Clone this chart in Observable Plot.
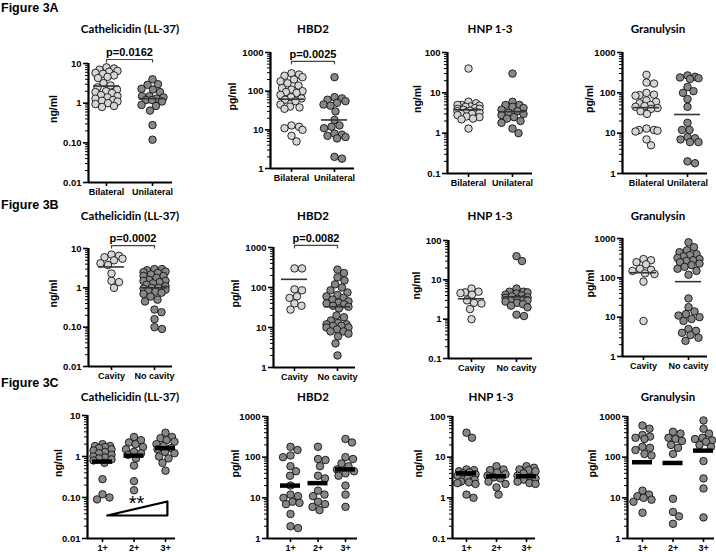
<!DOCTYPE html>
<html><head><meta charset="utf-8">
<script src="https://cdn.jsdelivr.net/npm/d3@7"></script>
<script src="https://cdn.jsdelivr.net/npm/@observablehq/plot@0.6"></script>
<style>
body{margin:0;background:#fff;}
#root{position:relative;width:716px;height:552px;overflow:hidden;font-family:"Liberation Sans",Arial,sans-serif;background:#fff;}
.fig{position:absolute;left:1px;font-weight:bold;font-size:12.5px;transform:translateY(-50%);white-space:nowrap;}
.ttl{position:absolute;font-family:Lato,"Open Sans",sans-serif;font-weight:bold;font-size:11.5px;transform:translate(-50%,-50%);white-space:nowrap;}
#root svg{position:absolute;background:transparent;overflow:visible;max-width:none;}
</style></head>
<body><div id="root"></div>
<script>
// ---------- categories & labels ----------
const catsA = ["Bilateral", "Unilateral"];
const catsB = ["Cavity", "No cavity"];
const catsC = ["1+", "2+", "3+"];
const figureLabels = ["Figure 3A", "Figure 3B", "Figure 3C"];
const markers = ["Cathelicidin (LL-37)", "HBD2", "HNP 1-3", "Granulysin"];
const units = ["ng/ml", "pg/ml", "ng/ml", "pg/ml"];
const ticksCath = ["0.01", "0.10", "1", "10"];
const ticksPg = ["1", "10", "100", "1000"];
const ticksHnp = ["0.1", "1", "10", "100"];

// ---------- Figure 3A: bilateral vs unilateral ----------
const A_cath_bil = [8.0, 7.5, 7.0, 6.5, 6.2, 5.8, 5.5, 5.0, 4.6, 4.3, 3.2, 2.8, 2.5, 2.2, 2.0, 1.9, 1.8, 1.6, 1.5, 1.4, 1.3, 1.2, 1.15, 1.1, 1.0, 0.95, 0.85, 0.8];
const A_cath_uni = [4.0, 3.0, 2.9, 2.3, 2.2, 1.9, 1.5, 1.5, 1.4, 1.3, 1.2, 1.2, 1.1, 0.9, 0.85, 0.65, 0.28, 0.12];
const A_cath_center = [2.7, 1.3];
const A_hbd2_bil = [290, 270, 250, 230, 200, 180, 160, 140, 120, 110, 100, 95, 90, 80, 70, 65, 60, 55, 45, 40, 38, 35, 13, 12, 11, 10, 7, 5];
const A_hbd2_uni = [230, 70, 65, 60, 55, 50, 45, 42, 30, 18, 13, 12, 11, 8, 7.5, 7, 6.5, 6, 2.0, 1.8];
const A_hbd2_center = [62, 18];
const A_hnp_bil = [40, 6, 5.5, 5, 5, 4.8, 4.6, 4.5, 4.2, 4, 4, 3.8, 3.6, 3.5, 3.4, 3.3, 3.2, 3.0, 3.0, 2.8, 2.6, 2.5, 2.3, 2.2, 1.3];
const A_hnp_uni = [30, 6, 5, 5, 4.5, 4.2, 3.8, 3.5, 3.2, 3.0, 2.8, 2.5, 2.3, 2.0, 1.8, 1.3, 1.0];
const A_hnp_center = [3.8, 3.4];
const A_gran_bil = [280, 180, 170, 100, 90, 88, 85, 65, 60, 55, 50, 47, 45, 42, 40, 35, 30, 13, 12, 12, 11, 11.5, 7, 5];
const A_gran_uni = [270, 250, 240, 230, 220, 140, 110, 100, 70, 45, 18, 12, 12, 8, 7.5, 7, 6, 6, 2.0, 1.8];
const A_gran_center = [43, 29];

// ---------- Figure 3B: cavity vs no cavity ----------
const B_cath_cav = [7, 6.5, 6, 5.5, 5, 4.2, 3.8, 2.3, 1.5, 1.4, 1.0];
const B_cath_no = [3.0, 3.0, 2.8, 2.6, 2.5, 2.4, 2.2, 2.0, 2.0, 1.8, 1.6, 1.5, 1.5, 1.4, 1.3, 1.2, 1.1, 1.0, 1.0, 0.95, 0.9, 0.85, 0.8, 0.75, 0.7, 0.6, 0.5, 0.45, 0.28, 0.24, 0.16, 0.1, 0.09];
const B_cath_center = [3.4, 1.0];
const B_hbd2_cav = [300, 300, 90, 85, 60, 55, 40, 35, 28];
const B_hbd2_no = [280, 230, 180, 150, 120, 100, 85, 75, 65, 60, 55, 50, 45, 42, 40, 38, 35, 33, 30, 20, 18, 15, 13, 12, 12, 11, 11, 10, 10, 9, 8, 8, 7, 6, 4, 2];
const B_hbd2_center = [160, 33];
const B_hnp_cav = [6, 5, 4.8, 4.6, 4.2, 3.0, 2.6, 2.5, 1.8, 1.0];
const B_hnp_no = [40, 30, 6, 5, 5, 4.8, 4.5, 4.2, 4, 3.8, 3.6, 3.5, 3.3, 3.2, 3.0, 3.0, 2.8, 2.6, 2.4, 2.2, 2.0, 1.3, 1.2];
const B_hnp_center = [3.3, 3.7];
const B_gran_cav = [300, 280, 250, 220, 170, 160, 150, 130, 125, 80, 8];
const B_gran_no = [800, 600, 500, 450, 400, 380, 350, 320, 300, 280, 270, 250, 230, 210, 190, 170, 150, 120, 30, 18, 14, 12, 11, 10, 9, 8, 5, 4.5, 4, 3.5, 3, 2.5];
const B_gran_center = [135, 80];

// ---------- Figure 3C: smear grade 1+ / 2+ / 3+ ----------
const C_cath_1 = [2.0, 1.8, 1.8, 1.7, 1.6, 1.5, 1.4, 1.3, 1.2, 1.1, 1.0, 0.95, 0.9, 0.85, 0.8, 0.7, 0.28, 0.12, 0.1, 0.09];
const C_cath_2 = [3.0, 2.5, 2.2, 2.0, 1.7, 1.5, 1.3, 1.2, 1.1, 0.9, 0.6, 0.25, 0.15];
const C_cath_3 = [3.8, 3.0, 2.8, 2.5, 2.3, 2.0, 1.8, 1.6, 1.5, 1.3, 1.2, 1.0, 0.9, 0.7, 0.45];
const C_cath_center = [0.75, 1.05, 1.6];
const C_hbd2_1 = [180, 150, 110, 100, 60, 45, 35, 20, 12, 11, 10, 8, 7.5, 7, 4, 2.0, 1.8];
const C_hbd2_2 = [180, 90, 85, 60, 35, 30, 15, 12, 11, 8, 7, 6, 5];
const C_hbd2_3 = [280, 230, 100, 90, 70, 60, 50, 45, 40, 35, 20, 12, 6];
const C_hbd2_center = [20, 23, 50];
const C_hnp_1 = [40, 30, 5, 4.8, 4.5, 4.2, 4, 3.8, 3.5, 3.0, 2.8, 2.5, 2.4, 2.3, 2.2, 1.2, 1.0];
const C_hnp_2 = [6, 5, 4.8, 4.2, 3.8, 3.5, 3.2, 3.0, 2.5, 2.2, 1.8, 1.2];
const C_hnp_3 = [6, 5.5, 5, 4.8, 4.5, 4, 3.5, 3.2, 3.0, 2.8, 2.5, 2.3, 2.2];
const C_hnp_center = [4.0, 3.4, 3.4];
const C_gran_1 = [600, 500, 350, 320, 300, 280, 180, 170, 150, 120, 110, 15, 12, 11, 10, 9, 8, 4.3];
const C_gran_2 = [420, 380, 300, 280, 250, 200, 170, 120, 9.5, 4.5, 3.5, 2.3];
const C_gran_3 = [800, 500, 380, 300, 280, 260, 240, 200, 180, 80, 30, 17, 3.3];
const C_gran_center = [75, 72, 145];

// ---------- annotations ----------
const pTests = {
  A0: {label: "p=0.0162", y: 12.6},
  A1: {label: "p=0.0025", y: 590},
  B0: {label: "p=0.0002", y: 11.9},
  B1: {label: "p=0.0082", y: 1130}
};
const trendTriangle = [[1.15, 0.0364], [3.06, 0.08], [3.06, 0.0364], [1.15, 0.0364]];
const trendStars = [{x: 2.08, y: 0.07, text: "**"}];

// ---------- layout (pixels) ----------
const layouts = {
  A: [
    {axisX: 88, right: 172, top: 63, bottom: 182, cats: [106, 152], labelX: 53, titleX: 130},
    {axisX: 270, right: 354, top: 52, bottom: 168, cats: [291, 334], labelX: 232, titleX: 313},
    {axisX: 447, right: 532, top: 52, bottom: 173, cats: [468, 512], labelX: 417, titleX: 490},
    {axisX: 622, right: 707, top: 52, bottom: 173, cats: [646, 687], labelX: 589, titleX: 658}
  ],
  B: [
    {axisX: 88, right: 172, top: 248, bottom: 366, cats: [111, 154], labelX: 53, titleX: 130},
    {axisX: 273, right: 355, top: 247, bottom: 367, cats: [294, 337], labelX: 235, titleX: 313},
    {axisX: 448, right: 532, top: 240, bottom: 358, cats: [471, 516], labelX: 416, titleX: 490},
    {axisX: 622, right: 707, top: 238, bottom: 356, cats: [643, 688], labelX: 590, titleX: 658}
  ],
  C: [
    {axisX: 87, right: 175, top: 415, bottom: 538, cats: [102, 165], labelX: 58, titleX: 130},
    {axisX: 267, right: 357, top: 416, bottom: 538, cats: [290, 345], labelX: 235, titleX: 313},
    {axisX: 452, right: 535, top: 416, bottom: 538, cats: [466, 526], labelX: 418, titleX: 491},
    {axisX: 627, right: 714, top: 416, bottom: 538, cats: [642, 703], labelX: 592, titleX: 668}
  ]
};
const figY = {A: 8, B: 205, C: 383};
const titleY = {A: 28, B: 215, C: 396};

const LIGHT = "#d6d6d6", DARK = "#878787";

const rowsDef = {
  A: {cats: catsA, panels: [
    {groups: [A_cath_bil, A_cath_uni], center: A_cath_center, ticks: ticksCath},
    {groups: [A_hbd2_bil, A_hbd2_uni], center: A_hbd2_center, ticks: ticksPg},
    {groups: [A_hnp_bil, A_hnp_uni], center: A_hnp_center, ticks: ticksHnp},
    {groups: [A_gran_bil, A_gran_uni], center: A_gran_center, ticks: ticksPg}]},
  B: {cats: catsB, panels: [
    {groups: [B_cath_cav, B_cath_no], center: B_cath_center, ticks: ticksCath},
    {groups: [B_hbd2_cav, B_hbd2_no], center: B_hbd2_center, ticks: ticksPg},
    {groups: [B_hnp_cav, B_hnp_no], center: B_hnp_center, ticks: ticksHnp},
    {groups: [B_gran_cav, B_gran_no], center: B_gran_center, ticks: ticksPg}]},
  C: {cats: catsC, panels: [
    {groups: [C_cath_1, C_cath_2, C_cath_3], center: C_cath_center, ticks: ticksCath},
    {groups: [C_hbd2_1, C_hbd2_2, C_hbd2_3], center: C_hbd2_center, ticks: ticksPg},
    {groups: [C_hnp_1, C_hnp_2, C_hnp_3], center: C_hnp_center, ticks: ticksHnp},
    {groups: [C_gran_1, C_gran_2, C_gran_3], center: C_gran_center, ticks: ticksPg}]}
};

// deterministic, width-limited scatter layout in pixel space (overlap allowed when crowded)
function swarm(values, ys, sep, maxW) {
  const pts = values.map(v => ({v, y: ys(v), x: 0})).sort((a, b) => a.y - b.y);
  const placed = [];
  const cands = [];
  for (let x = 0; x <= maxW + 1e-9; x += 0.5) { cands.push(x); if (x > 0) cands.push(-x); }
  for (const p of pts) {
    let best = 0, bestCost = Infinity;
    for (const c of cands) {
      let cost = Math.abs(c) * 0.01;
      for (const q of placed) {
        const d = Math.hypot(q.x - c, q.y - p.y);
        if (d < sep) cost += (sep - d) * (sep - d);
      }
      if (cost < bestCost - 1e-9) { bestCost = cost; best = c; }
    }
    p.x = best;
    placed.push(p);
  }
  return pts;
}

const root = document.getElementById("root");

for (const key of ["A", "B", "C"]) {
  const fl = document.createElement("div");
  fl.className = "fig";
  fl.textContent = figureLabels[["A","B","C"].indexOf(key)];
  fl.style.top = figY[key] + "px";
  root.appendChild(fl);

  const row = rowsDef[key];
  row.panels.forEach((p, pi) => {
    const L = layouts[key][pi];
    const ML = 52, MT = 24, MR = 6, MB = 24;
    const svgLeft = L.axisX - ML, svgTop = L.top - MT;
    const width = L.right - svgLeft + MR;
    const height = L.bottom - svgTop + MB;
    const n = row.cats.length;
    const s = (L.cats[1] - L.cats[0]) / (n - 1);
    const xd = [1 - (L.cats[0] - L.axisX) / s, 1 + (L.right - L.cats[0]) / s];
    const major = p.ticks.map(Number);
    const ydom = [major[0], major[major.length - 1]];
    const ys = d3.scaleLog().domain(ydom).range([L.bottom, L.top]);
    const minor = [];
    for (let d = ydom[0]; d < ydom[1] * 0.999; d *= 10) for (let k = 2; k <= 9; k++) minor.push(d * k);
    const fmt = new Map(major.map((v, i) => [v, p.ticks[i]]));

    const maxW = key === "C" ? 9 : 11;
    const dots = [];
    p.groups.forEach((vals, gi) => {
      const fill = key === "C" ? DARK : (gi === 0 ? LIGHT : DARK);
      for (const pt of swarm(vals, ys, 7.4, maxW)) dots.push({g: gi + 1, v: pt.v, off: pt.x / s, fill});
    });
    const centers = p.center.map((v, i) => ({g: i + 1, v}));
    const hw = (key === "C" ? 10 : 13) / s;

    const marks = [
      Plot.dot(dots, {x: d => d.g + d.off, y: "v", r: 3.75, fill: "fill", stroke: "#111", strokeWidth: 0.9}),
      Plot.ruleY(centers, {y: "v", x1: d => d.g - hw, x2: d => d.g + hw,
        stroke: key === "C" ? "#000" : "#333", strokeWidth: key === "C" ? 4.5 : 1.6}),
      Plot.ruleX([xd[0]], {y1: ydom[0], y2: ydom[1], stroke: "#000", strokeWidth: 2.2}),
      Plot.ruleY([ydom[0]], {x1: xd[0], x2: xd[1], stroke: "#000", strokeWidth: 2.2}),
      Plot.axisY(minor, {tickSize: 3, tickFormat: () => "", label: null, strokeWidth: 1}),
      Plot.axisY(major, {tickSize: 5, tickPadding: 2, tickFormat: v => fmt.get(v), label: null, strokeWidth: 1.6, fontSize: 9.5, fontWeight: "bold"}),
      Plot.axisX(d3.range(1, n + 1), {tickSize: 4, tickPadding: 2, tickFormat: i => row.cats[i - 1], label: null, strokeWidth: 1.6, fontSize: 9, fontWeight: "bold"}),
      Plot.text([units[pi]], {frameAnchor: "left", dx: L.labelX - L.axisX, rotate: -90, text: d => d, fontSize: 10.5, fontWeight: "bold"})
    ];
    const pt = pTests[key + pi];
    if (pt) {
      const yEnd = ys.invert(ys(pt.y) + 3.5);
      marks.push(
        Plot.ruleY([pt], {y: "y", x1: 1, x2: 2, stroke: "#444", strokeWidth: 1.2}),
        Plot.ruleX([1, 2], {x: d => d, y1: pt.y, y2: yEnd, stroke: "#444", strokeWidth: 1.2}),
        Plot.text([pt], {x: 1.5, y: "y", text: "label", dy: -7, fontSize: 11, fontWeight: "bold"})
      );
    }
    if (key === "C" && pi === 0) {
      marks.push(
        Plot.line(trendTriangle, {x: d => d[0], y: d => d[1], stroke: "#000", strokeWidth: 2.2}),
        Plot.text(trendStars, {x: "x", y: "y", text: "text", fontSize: 20, fontWeight: "normal", letterSpacing: "3px"})
      );
    }

    const svg = Plot.plot({
      width, height,
      marginLeft: ML, marginTop: MT, marginRight: MR, marginBottom: MB,
      x: {domain: xd},
      y: {type: "log", domain: ydom},
      style: {background: "transparent", fontFamily: "'Liberation Sans', Arial, sans-serif", fontWeight: "bold", color: "#000", overflow: "visible"},
      marks
    });
    svg.style.left = svgLeft + "px";
    svg.style.top = svgTop + "px";
    root.appendChild(svg);

    const t = document.createElement("div");
    t.className = "ttl";
    t.textContent = markers[pi];
    t.style.left = L.titleX + "px";
    t.style.top = titleY[key] + "px";
    root.appendChild(t);
  });
}
</script></body></html>
